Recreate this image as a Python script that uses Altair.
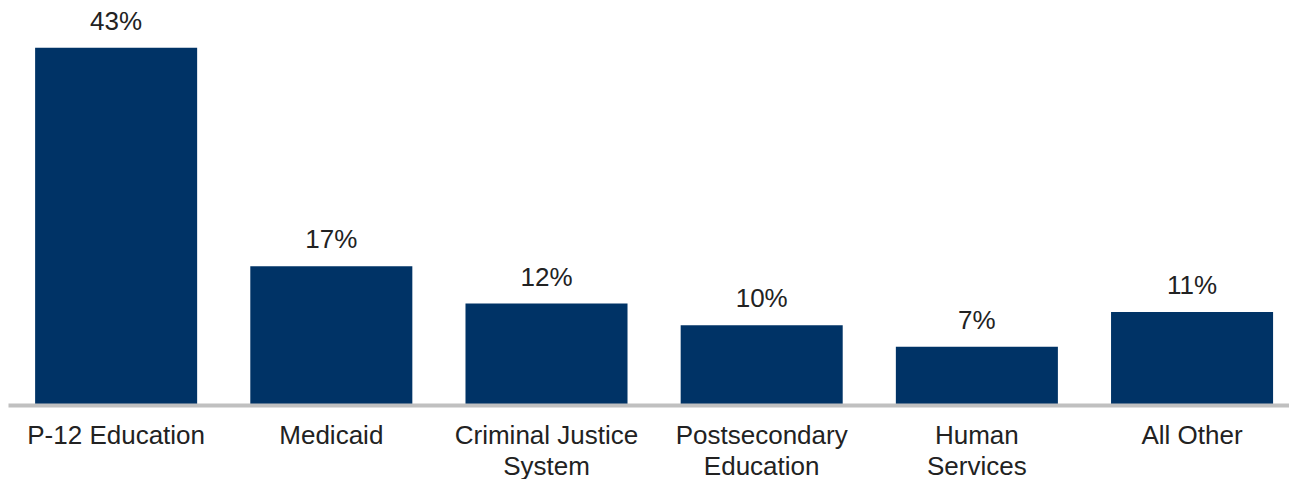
import altair as alt
import pandas as pd

categories = [
    "P-12 Education",
    "Medicaid",
    "Criminal Justice\nSystem",
    "Postsecondary\nEducation",
    "Human\nServices",
    "All Other",
]
shares = [0.43, 0.167, 0.122, 0.096, 0.070, 0.112]

df = pd.DataFrame({"cat": categories, "share": shares})

FONT = "Liberation Sans"
TEXT_COLOR = "#222222"

base = alt.Chart(df).encode(
    x=alt.X(
        "cat:N",
        sort=categories,
        scale=alt.Scale(paddingInner=0.247, paddingOuter=0.1, align=0.63),
        axis=alt.Axis(
            title=None,
            labelAngle=0,
            ticks=False,
            tickSize=0,
            domainColor="#C0C0C0",
            domainWidth=4,
            labelFont=FONT,
            labelFontSize=26,
            labelColor=TEXT_COLOR,
            labelPadding=17,
            labelLineHeight=31,
            labelLimit=400,
            labelOverlap=False,
            labelExpr="split(datum.label, '\\n')",
            zindex=1,
        ),
    ),
    y=alt.Y("share:Q", scale=alt.Scale(domain=[0, 0.4765]), axis=None),
)

bars = base.mark_bar(color="#003366")
labels = base.mark_text(
    baseline="alphabetic", dy=-18, font=FONT, fontSize=26, color=TEXT_COLOR
).encode(text=alt.Text("share:Q", format=".0%"))

chart = (
    alt.layer(bars, labels)
    .properties(width=1281, height=396, padding=0)
    .configure_view(stroke=None)
)

chart.save("out.html", embed_options={"renderer": "svg", "actions": False})
